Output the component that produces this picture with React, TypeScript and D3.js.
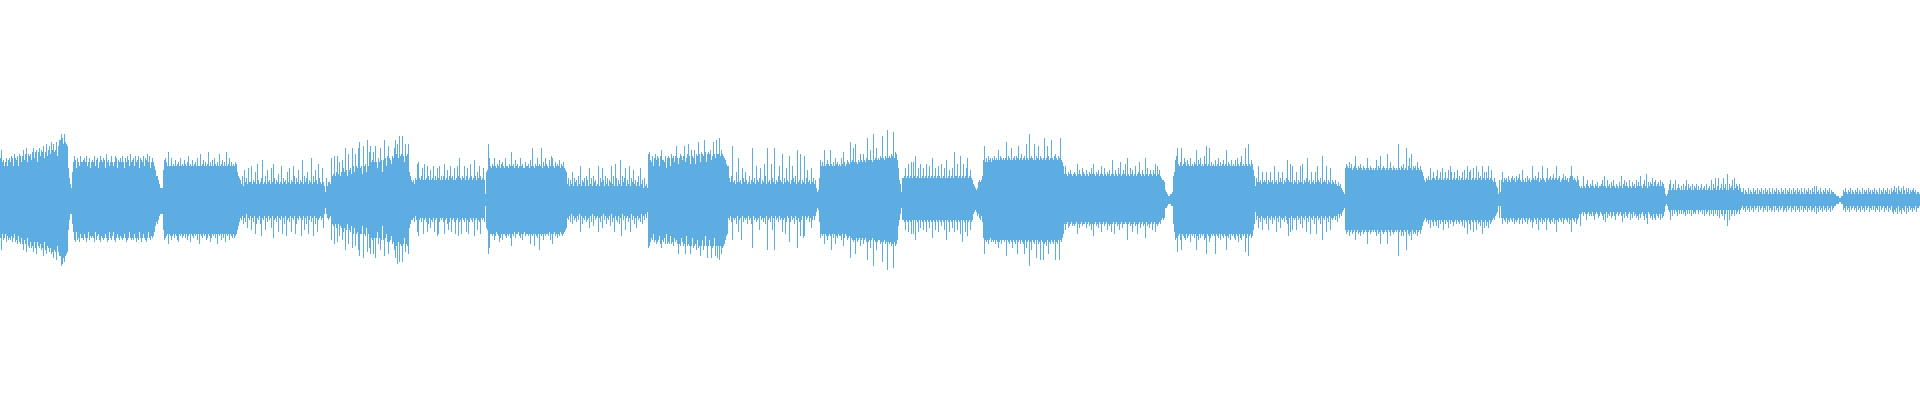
import React, { useEffect, useRef } from 'react';
import * as d3 from 'd3';

// Peak amplitude per pixel column, one base-36 digit each (digit / 100 of full scale).
// Groups of ten are only for reading; spaces are stripped.
const TOP_PEAKS = [
  'lpjkhjlhkl jmlhnlkmhn mjmpknqjnm nkoqlopjoq mporlosmpr ntpsoptmru uxvsxtsr',
  'gb86',
  'ejmkgljhmj jkljmhjlgj kjmhklgjmk jlkgnjkhjm jhjmlgkjlj mjgljmkhnj klhmjkmglk jmhlknjmgj ljhfc',
  'ca8666',
  'fkljhohhlh ihkhijhlhi hkihjmhihk hijhlhhnhi khjhiohjhk hlihjhnhik hjhohilhjh ihjiecb',
  'a8c7f9b8g9 9h8a9e8ia8 9bk89c8f9a 8g9ib8a9d8 9h8b9a8e9g 8a9hc8b9f8 a9k8c9be8a 9l8c9fa8ib 98g97',
  '4b7998',
  'lcdmcemdjc ekgeqfcnfg dqhenhgqtg hdrhieuhor jkojrjgljq kekulhmrlk imlqunslwm nwmjsmns',
  'eca',
  '9a8baijbac gaiabhcafa bhacagbhac aciabfachb cagabhclba cbhacgabic abkcaebhca bga',
  '3e',
  'fslhgihlhg ihkgijhglh hgihohigkh ighlhiggjh higkhqhgih lhihqgjhli hgkhmlhgjh ihkgihjgfe',
  '8b7a8e7b9a 7c8h7a9b7c a7g8b7c9a7 8h7b9ga7c8 b7a9h8c7ib 7a8k7c9bg7 a8h7b9f8a7 9c7g8a6b78 6',
  'nokjmhlnkm lhmpkkjmgl mlhnlmjmrl ilnmkmrjln smipmlpinm tnjonmuojn onpkmtnlun nvmpnmlkih',
  'hb9cr9a8e9 l9a8gb9ea8 9c8aq9b8ha 9bg8a9ic8q 9a8ib9q8a9 cha9n8b9ga 9m8ahb9c8p 9an8a9m8bf 9a8g9b8a64 5',
  'bkhjhphiki hpihjhlijh ihliojhikj itjkqjsjik jnkjnkjlvk kpkjxklqkl kmlwlkmlzl mlnmylonk',
  'ga84b',
  'bcgbcibcjb jcmbcgbibc gbcibchbcl bcgbchcbib cgbkbcfbcg boccibcmbc ibcglbcfba',
  '876569a9ac',
  'krjljmkljl kmklkpkmlk lkltkmlkqk lmkmlrklnk lmkslkxlml kskmlrkmlk lvklrmklul kmnlkmlvkj h',
  'dhdcedfdcd edcidfdcge dcfdcedgdi dcedfcdhdc gdcedfcdkd cfdcgdjcdf dicldcgdfc dhcdejdcfd cldgcdfdcf dichdfcba',
  'a954322334',
  'cekmqihjqh iljhkihlhi hjiphkilhi hmirhiqhjh ihkhilhjhi khiphjihkh ihkhlihjmh ihqihsihki fc',
  '7b9h9a8e9a 9e8a9e9a8h 9a8e9b9e8a 9bka9i9h8a 9e8a9h9i8a 9bl9a8e9a8 e9ha9b8m9a 9h8a9g8a98 a879786543',
  'gihgjgifgh mgfhgigfhg fglgfhgfgf gkfhgmfghg fgnfgjgfhg fgfsgfhgif gqfhlgnfhg hfjgfhfeca',
  '9bacagabeb acfabeagab eabfaheabe abfacabeaf abhaefabga bhaebcahbe aebhabfa9b 976',
  '3a4',
  'ae9bab9ca9 bcab9cabda 9fa9b9cab9 ahbacabe9b ahba9bgabc abdabhabc9 abdacab9bc hcaba9ca7',
  '676c768a76 87a7687967 78a7c76a78 697a768769 7c68a7976a 769786a797 c768a7d697 98b79a7897 a798632',
  '358a5685a5 686575857a 5867585768 5756856758 5675a586b5 7b5685b685 d5867a5b68 75864',
  '4635436354 3645363546 3536453643 6354635436 4536354635 3645364536 4363546353 6473745364 3546354635 443322',
  '21122',
  '5464354635 4354635436 3545364535 4635436354 6354635364 5746375463 7536463545 6453443',
];

const BOTTOM_PEAKS = [
  'jphkjhlikj kiljhlkmil mjmpkmqjno lonqlorlno mposlprnoq orqtpqunqs sxwtvsrq',
  'fa77',
  'cgklgkjlhj jkhjljgkij ijlgkihkli jkjhjlkgjk igkljhjkij kjhjlkjgjk jkhjljkgjl jhjkljgjki jigdb',
  'ca8777',
  'fkjihmhiki hjhiklhihj ihjhkihlhi jhihkhmhij hihkjhiljh ihjhmhihkh jhlhihkhij hjihfdb',
  '9a8c9b7e9a 8f9b8hc9a8 ci9a8f9b8a 9e8ja9b8g9 a8h9c8ia9b 8g9a8hc9a8 9ia8f9c8ha 8b9i8c9ga9 8a9e7',
  '479a98',
  'kcdmcelcid ekgepfcmfg dohenhgpsh hdthieqhor jkrjtjgmjp kdksjhlrlk imlptnwlvm nvmjqmnr',
  'eca',
  'a9b8agia9b 9ha9bgc9ea b9ga9ihb9a 9bha9cfb9g a9bha9ibah 9ab9gahb9a b9ia9fabh9 a9b',
  '3e',
  'frohhihkig hiljhkhhij hihjnhigjh hgijhkhgih hihmhihnhi jhphihkhih higkhmhgih jhighihgfe',
  '9a8b7c8a9b 8a7g8c9a8b a9e8b7d8a9 8g9b8e7a8c 9a8d7b9g8a b8c9i7a8f9 8b9g7a8c9e 8a9b7c8a79 6',
  'onljkhlkml kimokljmhm lmimlnjlkm rmnjlnmrin mnrnjonmpk onsnkpnint nkntonjsnt nunronmkih',
  '9a8bk9a9c8 ga9k8b9a9c 8a9co8a9ba 9f8a9b9c8p a9b8f9p8a9 b8a9ga9hb8 9lb8a9c8ao 9bia8ji8a9 8b9ea8a864 5',
  'bjhihmhiki hiphjhmijh iikhnjhikj itjklkrjlk jnkjmkjlul kokjxklplk kmlvlkmlzl mlnmylnmk',
  'da74a',
  'abfabgabha hakabgaeab fabgabeabj abfabgabda bfakabgabe agabfabhal abgaibafba',
  '7656879a8b',
  'jrklkmkjlk lkmklolkmk klksklmklo klmkrlkmkl mrkolkxlpk lmktkmlukl umlnkrlmkl mkulmkuklj h',
  'cfcbedcbdc dcbhcecbdc cbecbdcfci cbdcebcgcb dcbfcdcgcb hcbdcfcbec cbckcbdcgc bdchcbecbd cjbdcecbfc bgcdcbca9',
  'a944322233',
  'cgkjqihkph ijkhjihlhi hjhpikhjhi hkjrhiljhi hirhijhkhi jhipijhkhi hjkhilhjkh ihqjhsihji fc',
  '6a8e9b8f9a 9c8f9a8c9a 8g9b8e9a9b 8aci9g8f9a 9f8a9c8e9a 8g9b8h9a8c 9h8a9c8k9a 8g9b8f9a98 a8b7978654',
  'fhgfigfhgf kgfhgigfhg fgmgfhgfgf gifhgmfghg fgmfgifghg fgfsgfigif gpfhigkfhg hfigfhfdba',
  '9bacaeabda bdaeacabfa cabeacabdb acabcabdae abhacfabga bfacbdahbe adbeacba9a 876',
  '393',
  '9c9ab9cab9 ab9caba9ca 9c9ab9ca9b aeb9ac9fab 9cab9fa9bc ab9cagab9a b9ca9ab9ca g9ab9ca97',
  'd76867a768 7868a76798 678a7b6978 69868a7687 68b7968976 a7968798a7 9768a79c67 98a79a7897 a798632',
  '356a585756 8575757685 7575857675 5756575857 6585758575 8595785a75 d5a5875857 65754',
  '3546354635 4635436354 3645363546 5363546354 3654635436 4536354635 3645364536 5463746354 6354635463 543322',
  '21122',
  '5463546354 3546354635 4635436453 5364536354 3645364536 7564736574 5637463546 4536443',
];

const WAVE_COLOR = '#5DADE2';

const decode = (rows: string[]): number[] =>
  rows.join('').replace(/\s+/g, '').split('').map(c => parseInt(c, 36) / 100);

export default function App() {
  const svgRef = useRef<SVGSVGElement>(null);

  useEffect(() => {
    if (!svgRef.current) return;

    const width = 1920;
    const height = 400;
    const svg = d3.select(svgRef.current);
    svg.selectAll('*').remove();

    const top = decode(TOP_PEAKS);
    const bottom = decode(BOTTOM_PEAKS);

    const y = d3.scaleLinear().domain([-1, 1]).range([height, 0]);

    // each half gets its own x scale so both span the full width
    const drawHalf = (values: number[], sign: number) => {
      const x = d3.scaleLinear().domain([0, values.length]).range([0, width]);
      const pts = values.map((v, i) => ({ i, v }));
      pts.push({ i: values.length, v: values[values.length - 1] });

      const area = d3.area<{ i: number; v: number }>()
        .x(d => x(d.i))
        .y0(y(0))
        .y1(d => y(sign * d.v))
        .curve(d3.curveStepAfter);

      svg.append('path')
        .datum(pts)
        .attr('d', area)
        .attr('fill', WAVE_COLOR)
        .attr('shape-rendering', 'crispEdges');
    };

    drawHalf(top, 1);
    drawHalf(bottom, -1);
  }, []);

  return (
    <svg
      ref={svgRef}
      width={1920}
      height={400}
      style={{ position: 'absolute', left: 0, top: 0, display: 'block', background: '#fff' }}
    />
  );
}
